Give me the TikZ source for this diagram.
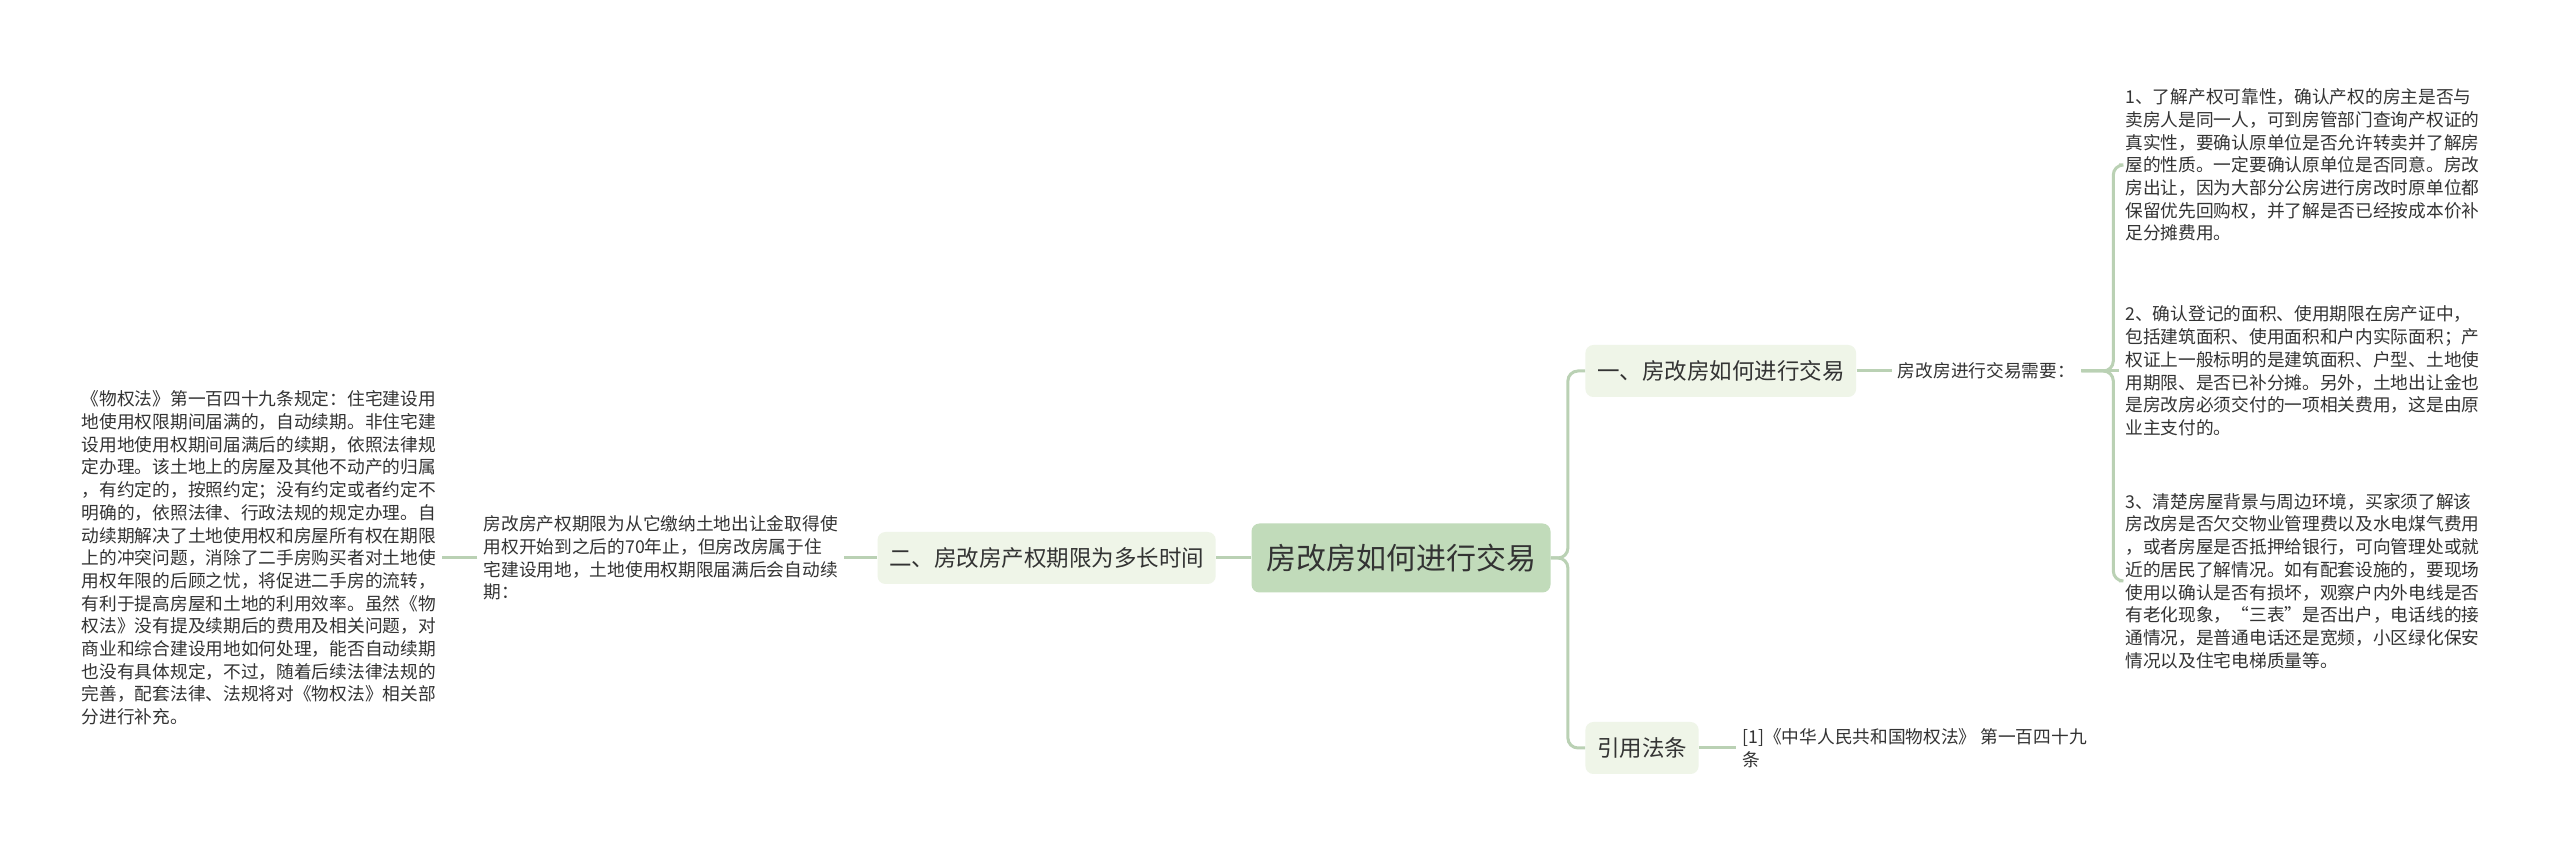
\documentclass[tikz,border=0pt]{standalone}
\usepackage{fontspec}
\setmainfont{Noto Sans CJK SC}
\usepackage{tikz}
\usetikzlibrary{positioning}
\definecolor{linegreen}{RGB}{186,209,180}
\definecolor{rootfill}{RGB}{193,219,186}
\definecolor{branchfill}{RGB}{239,245,232}
\definecolor{textgray}{RGB}{51,51,51}

\begin{document}
\begin{tikzpicture}[x=0.5pt, y=-0.5pt,
  rootnode/.style={fill=rootfill, rounded corners=4pt, inner xsep=7.25pt, minimum height=34.5pt, text=textgray, font=\fontsize{15}{18}\selectfont},
  branch/.style={fill=branchfill, rounded corners=4pt, inner xsep=5.8pt, minimum height=26pt, text=textgray, font=\fontsize{11.25}{13.5}\selectfont},
  leaf/.style={align=left, inner sep=3pt, text=textgray, font=\fontsize{8.85}{11.35}\selectfont},
  conn/.style={draw=linegreen, line width=1.5pt, rounded corners=5pt}]
  \fill [white] (0,0) rectangle (2560,854);
  \useasboundingbox (0,0) rectangle (2560,854);
  \node (root) [rootnode] at (1401,558) {房改房如何进行交易};
  \node (b2) [branch, left=17.5pt of root] {二、房改房产权期限为多长时间};
  \node (p2) [leaf, left=16.5pt of b2] {房改房产权期限为从它缴纳土地出让金取得使\\用权开始到之后的70年止，但房改房属于住\\宅建设用地，土地使用权期限届满后会自动续\\期：};
  \node (p1) [leaf, left=17.5pt of p2] {《物权法》第一百四十九条规定：住宅建设用\\地使用权限期间届满的，自动续期。非住宅建\\设用地使用权期间届满后的续期，依照法律规\\定办理。该土地上的房屋及其他不动产的归属\\，有约定的，按照约定；没有约定或者约定不\\明确的，依照法律、行政法规的规定办理。自\\动续期解决了土地使用权和房屋所有权在期限\\上的冲突问题，消除了二手房购买者对土地使\\用权年限的后顾之忧，将促进二手房的流转，\\有利于提高房屋和土地的利用效率。虽然《物\\权法》没有提及续期后的费用及相关问题，对\\商业和综合建设用地如何处理，能否自动续期\\也没有具体规定，不过，随着后续法律法规的\\完善，配套法律、法规将对《物权法》相关部\\分进行补充。};
  \node (b1) [branch, anchor=west] at (1585,371) {一、房改房如何进行交易};
  \node (need) [leaf, right=17.5pt of b1] {房改房进行交易需要：};
  \node (i1) [leaf, anchor=west] at (2119,165) {1、了解产权可靠性，确认产权的房主是否与\\卖房人是同一人，可到房管部门查询产权证的\\真实性，要确认原单位是否允许转卖并了解房\\屋的性质。一定要确认原单位是否同意。房改\\房出让，因为大部分公房进行房改时原单位都\\保留优先回购权，并了解是否已经按成本价补\\足分摊费用。};
  \node (i2) [leaf, anchor=west] at (2119,371) {2、确认登记的面积、使用期限在房产证中，\\包括建筑面积、使用面积和户内实际面积；产\\权证上一般标明的是建筑面积、户型、土地使\\用期限、是否已补分摊。另外，土地出让金也\\是房改房必须交付的一项相关费用，这是由原\\业主支付的。};
  \node (i3) [leaf, anchor=west] at (2119,581) {3、清楚房屋背景与周边环境，买家须了解该\\房改房是否欠交物业管理费以及水电煤气费用\\，或者房屋是否抵押给银行，可向管理处或就\\近的居民了解情况。如有配套设施的，要现场\\使用以确认是否有损坏，观察户内外电线是否\\有老化现象，“三表”是否出户，电话线的接\\通情况，是普通电话还是宽频，小区绿化保安\\情况以及住宅电梯质量等。};
  \node (b3) [branch, anchor=west] at (1585,748) {引用法条};
  \node (cite) [leaf, right=18.5pt of b3] {[1]《中华人民共和国物权法》 第一百四十九\\条};
  \draw [conn] (root.west) -- (b2.east);
  \draw [conn] (b2.west) -- (p2.east);
  \draw [conn] (p2.west) -- (p1.east);
  \draw [conn] (root.east) -- ++(8.5pt,0) |- (b1.west);
  \draw [conn] (root.east) -- ++(8.5pt,0) |- (b3.west);
  \draw [conn] (b1.east) -- (need.west);
  \draw [conn] (b3.east) -- (cite.west);
  \draw [conn] (need.east) -- ++(16pt,0) |- (i1.west);
  \draw [conn] (need.east) -- ++(16pt,0) |- (i3.west);
  \draw [conn] (need.east) -- (i2.west);
\end{tikzpicture}
\end{document}
